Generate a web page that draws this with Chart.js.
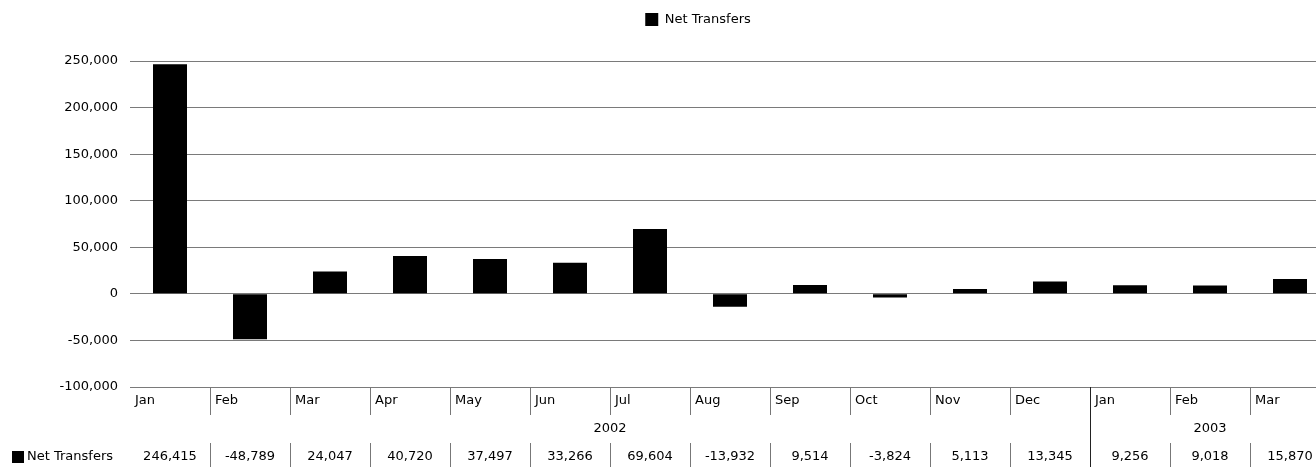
<!DOCTYPE html>
<html>
<head>
<meta charset="utf-8">
<script src="https://cdn.jsdelivr.net/npm/chart.js@4"></script>
<style>
  html, body { margin: 0; padding: 0; background: #fff; overflow: hidden; }
  #wrap { width: 1331px; height: 467px; }
</style>
</head>
<body>
<div id="wrap"><canvas id="chart"></canvas></div>
<script>
const months = ['Jan', 'Feb', 'Mar', 'Apr', 'May', 'Jun', 'Jul', 'Aug', 'Sep', 'Oct', 'Nov', 'Dec', 'Jan', 'Feb', 'Mar'];
const years = ['2002', '2002', '2002', '2002', '2002', '2002', '2002', '2002', '2002', '2002', '2002', '2002', '2003', '2003', '2003'];
const netTransfers = [246415, -48789, 24047, 40720, 37497, 33266, 69604, -13932, 9514, -3824, 5113, 13345, 9256, 9018, 15870];
const seriesName = 'Net Transfers';

const font = { family: '"DejaVu Sans", Verdana, sans-serif', size: 13 };
const fmt = v => Number(v).toLocaleString('en-US');

// push the legend over a bit and give it a fixed height
const legendTweak = {
    id: 'legendTweak',
    beforeInit(chart) {
        const fit = chart.legend.fit;
        chart.legend.fit = function () {
            fit.bind(chart.legend)();
            this.height = 58;
        };
    },
    afterLayout(chart) {
        chart.legend.left += 33;
        chart.legend.right += 33;
    }
};

// the data table under the plot
const dataTable = {
    id: 'dataTable',
    afterDraw(chart) {
        const ctx = chart.ctx;
        const x = chart.scales.x;
        const area = chart.chartArea;
        const step = x.getPixelForValue(1) - x.getPixelForValue(0);
        const top = area.bottom;
        const bottom = chart.height;

        ctx.save();
        ctx.font = `${font.size}px ${font.family}`;
        ctx.fillStyle = '#000';
        ctx.textBaseline = 'middle';

        // separators
        for (let i = 1; i < months.length; i++) {
            const bx = Math.round(x.getPixelForValue(i) - step / 2) + 0.5;
            ctx.beginPath();
            if (years[i] !== years[i - 1]) {
                ctx.strokeStyle = '#222';
                ctx.moveTo(bx, top);
                ctx.lineTo(bx, bottom);
            } else {
                ctx.strokeStyle = '#777';
                ctx.moveTo(bx, top);
                ctx.lineTo(bx, top + 28);
                ctx.moveTo(bx, top + 56);
                ctx.lineTo(bx, bottom);
            }
            ctx.lineWidth = 1;
            ctx.stroke();
        }

        // month labels
        ctx.textAlign = 'left';
        months.forEach((m, i) => {
            ctx.fillText(m, x.getPixelForValue(i) - step / 2 + 5, top + 14);
        });

        // year labels
        ctx.textAlign = 'center';
        let start = 0;
        for (let i = 1; i <= years.length; i++) {
            if (i === years.length || years[i] !== years[start]) {
                const l = x.getPixelForValue(start) - step / 2;
                const r = x.getPixelForValue(i - 1) + step / 2;
                ctx.fillText(years[start], (l + r) / 2, top + 42);
                start = i;
            }
        }

        // values
        netTransfers.forEach((v, i) => {
            ctx.fillText(fmt(v), x.getPixelForValue(i), top + 70);
        });

        // series key
        ctx.fillRect(12, top + 64, 12, 12);
        ctx.textAlign = 'left';
        ctx.fillText(seriesName, 27, top + 70);
        ctx.restore();
    }
};

new Chart(document.getElementById('chart'), {
    type: 'bar',
    data: {
        labels: months,
        datasets: [{
            label: seriesName,
            data: netTransfers,
            backgroundColor: '#000',
            borderColor: '#000',
            borderWidth: 0,
            categoryPercentage: 1,
            barPercentage: 0.425
        }]
    },
    options: {
        responsive: true,
        maintainAspectRatio: false,
        animation: false,
        layout: { padding: { top: 3, right: 1, left: 0, bottom: 0 } },
        plugins: {
            legend: {
                position: 'top',
                labels: {
                    font: font,
                    color: '#000',
                    boxWidth: 13,
                    boxHeight: 13,
                    padding: 10
                }
            },
            tooltip: { enabled: false }
        },
        scales: {
            x: {
                ticks: { display: false },
                grid: { display: false },
                border: { display: false },
                afterFit(scale) { scale.height = 80; }
            },
            y: {
                min: -100000,
                max: 250000,
                ticks: {
                    stepSize: 50000,
                    font: font,
                    color: '#000',
                    padding: 12,
                    callback: v => fmt(v)
                },
                grid: { color: '#7a7a7a', drawTicks: false, lineWidth: 1 },
                border: { display: false },
                afterFit(scale) { scale.width = 130; }
            }
        }
    },
    plugins: [legendTweak, dataTable]
});
</script>
</body>
</html>
